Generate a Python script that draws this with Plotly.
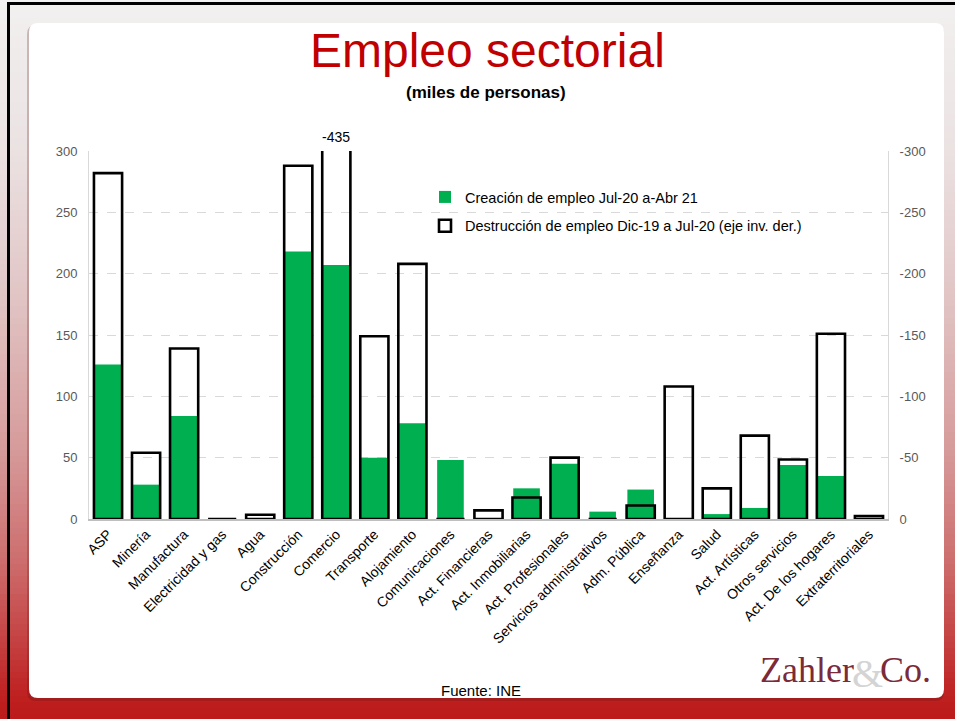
import plotly.graph_objects as go

categories = ["ASP", "Minería", "Manufactura", "Electricidad y gas", "Agua", "Construcción",
              "Comercio", "Transporte", "Alojamiento", "Comunicaciones", "Act. Financieras",
              "Act. Inmobiliarias", "Act. Profesionales", "Servicios administrativos",
              "Adm. Pública", "Enseñanza", "Salud", "Act. Artísticas", "Otros servicios",
              "Act. De los hogares", "Extraterritoriales"]
creacion = [126, 28, 84, 0, 0, 218, 207, 50, 78, 48, 0, 25, 45, 6, 24, 0, 4, 9, 44, 35, 0]
destruccion = [-282, -54, -139, 0, -3.5, -288, -435, -149, -208, 0, -7, -17.5, -50, 0,
               -11, -108, -25, -68, -48.5, -151, -2.5]
left_ticks = [0, 50, 100, 150, 200, 250, 300]
right_ticks = [0, -50, -100, -150, -200, -250, -300]

W, H = 955, 719
L, R, T, B = 89, 888, 151, 519
FONT = "Liberation Sans, Arial, sans-serif"


def px(p):
    return (p - L) / (R - L)


def py(p):
    return (B - p) / (B - T)


def hexmix(c1, c2, t):
    a = [int(c1[i:i + 2], 16) for i in (1, 3, 5)]
    b = [int(c2[i:i + 2], 16) for i in (1, 3, 5)]
    return "#%02x%02x%02x" % tuple(round(a[k] + (b[k] - a[k]) * t) for k in range(3))


stops = [(0, "#f2f0f0"), (150, "#ebe2e2"), (300, "#e1c4c4"), (450, "#d69a9a"),
         (560, "#cd6e6e"), (650, "#c43c3c"), (700, "#be1e1e"), (719, "#bd1b1b")]

shapes = []
step = 6
y = 0
while y < H:
    yc = y + step / 2
    for (a, ca), (b, cb) in zip(stops[:-1], stops[1:]):
        if a <= yc <= b:
            col = hexmix(ca, cb, (yc - a) / (b - a))
            break
    else:
        col = stops[-1][1]
    shapes.append(dict(type="rect", xref="paper", yref="paper", layer="below",
                       x0=px(0), x1=px(W), y0=py(y + step + 0.5), y1=py(y),
                       fillcolor=col, line=dict(width=0)))
    y += step


def rounded(x0, y0, x1, y1, r):
    rx, ry = r / (R - L), r / (B - T)
    X0, X1, Y0, Y1 = px(x0), px(x1), py(y1), py(y0)
    return (f"M{X0+rx},{Y0} L{X1-rx},{Y0} Q{X1},{Y0} {X1},{Y0+ry} L{X1},{Y1-ry} "
            f"Q{X1},{Y1} {X1-rx},{Y1} L{X0+rx},{Y1} Q{X0},{Y1} {X0},{Y1-ry} "
            f"L{X0},{Y0+ry} Q{X0},{Y0} {X0+rx},{Y0} Z")


shapes.append(dict(type="path", xref="paper", yref="paper", layer="below",
                   path=rounded(27, 25, 944, 701, 9), fillcolor="rgba(90,20,20,0.25)",
                   line=dict(width=0)))
shapes.append(dict(type="path", xref="paper", yref="paper", layer="below",
                   path=rounded(29, 23, 944, 698, 9), fillcolor="white",
                   line=dict(width=0)))
# black frame lines top / left
shapes.append(dict(type="rect", xref="paper", yref="paper", layer="below",
                   x0=px(7), x1=px(W), y0=py(5), y1=py(2), fillcolor="black",
                   line=dict(width=0)))
shapes.append(dict(type="rect", xref="paper", yref="paper", layer="below",
                   x0=px(7), x1=px(10), y0=py(H), y1=py(2), fillcolor="black",
                   line=dict(width=0)))

fig = go.Figure()
fig.add_trace(go.Bar(x=categories, y=creacion, name="Creación de empleo Jul-20 a-Abr 21",
                     marker=dict(color="#00b050", line=dict(width=0)), width=0.7,
                     legendgroup="a", yaxis="y"))
fig.add_trace(go.Bar(x=categories, y=destruccion,
                     name="Destrucción de empleo Dic-19 a Jul-20 (eje inv. der.)",
                     marker=dict(color="rgba(255,255,255,0)", line=dict(color="black", width=2.6)),
                     width=0.74, legendgroup="b", yaxis="y2"))

ci = categories.index("Comercio")
annotations = [
    dict(text="Empleo sectorial", x=px(487), y=py(50), xref="paper", yref="paper",
         showarrow=False, font=dict(family=FONT, size=48, color="#c00000"),
         xanchor="center", yanchor="middle"),
    dict(text="<b>(miles de personas)</b>", x=px(486), y=py(92), xref="paper", yref="paper",
         showarrow=False, font=dict(family=FONT, size=17, color="black"),
         xanchor="center", yanchor="middle"),
    dict(text=f"{destruccion[ci]:.0f}", x=categories[ci], y=py(137), xref="x", yref="paper",
         showarrow=False, font=dict(family=FONT, size=14, color="black"),
         xanchor="center", yanchor="middle"),
    dict(text="Fuente: INE", x=px(481), y=py(690), xref="paper", yref="paper",
         showarrow=False, font=dict(family=FONT, size=15, color="black"),
         xanchor="center", yanchor="middle"),
    dict(text="&", x=px(867), y=py(673), xref="paper", yref="paper",
         showarrow=False, font=dict(family="Liberation Serif, serif", size=40, color="#d4d4d4"),
         xanchor="center", yanchor="middle"),
    dict(text="Zahler", x=px(856), y=py(670), xref="paper", yref="paper",
         showarrow=False, font=dict(family="Liberation Serif, serif", size=36, color="#7b2a3a"),
         xanchor="right", yanchor="middle"),
    dict(text="Co.", x=px(878), y=py(670), xref="paper", yref="paper",
         showarrow=False, font=dict(family="Liberation Serif, serif", size=36, color="#7b2a3a"),
         xanchor="left", yanchor="middle"),
]

fig.update_layout(
    width=W, height=H,
    margin=dict(l=L, r=W - R, t=T, b=H - B, pad=0),
    paper_bgcolor="#f2f0f0", plot_bgcolor="rgba(0,0,0,0)",
    barmode="overlay", bargap=0.27,
    font=dict(family=FONT, color="black"),
    shapes=shapes, annotations=annotations,
    showlegend=True,
    legend=dict(x=px(425), y=py(181), xanchor="left", yanchor="top",
                bgcolor="rgba(0,0,0,0)", font=dict(family=FONT, size=14.5, color="black"),
                traceorder="grouped", tracegroupgap=7),
    xaxis=dict(type="category", tickangle=-45, tickfont=dict(size=14, color="black"),
               showline=True, linecolor="#bfbfbf", linewidth=1.5, showgrid=False,
               ticks="", range=[-0.5, len(categories) - 0.5]),
    yaxis=dict(range=[0, 300], tickvals=left_ticks, ticktext=[str(v) for v in left_ticks],
               showgrid=True, gridcolor="#d9d9d9",
               griddash="dash", gridwidth=1, showline=True, linecolor="#d9d9d9",
               tickfont=dict(size=13, color="#595959"), ticks="", zeroline=False,
               ticklabelstandoff=8),
    yaxis2=dict(range=[0, -300], tickvals=right_ticks, ticktext=[str(v) for v in right_ticks],
                overlaying="y", side="right",
                showgrid=False, showline=True, linecolor="#d9d9d9", zeroline=False,
                tickfont=dict(size=13, color="#595959"), ticks="", ticklabelstandoff=8),
)

fig.write_html("out.html")
